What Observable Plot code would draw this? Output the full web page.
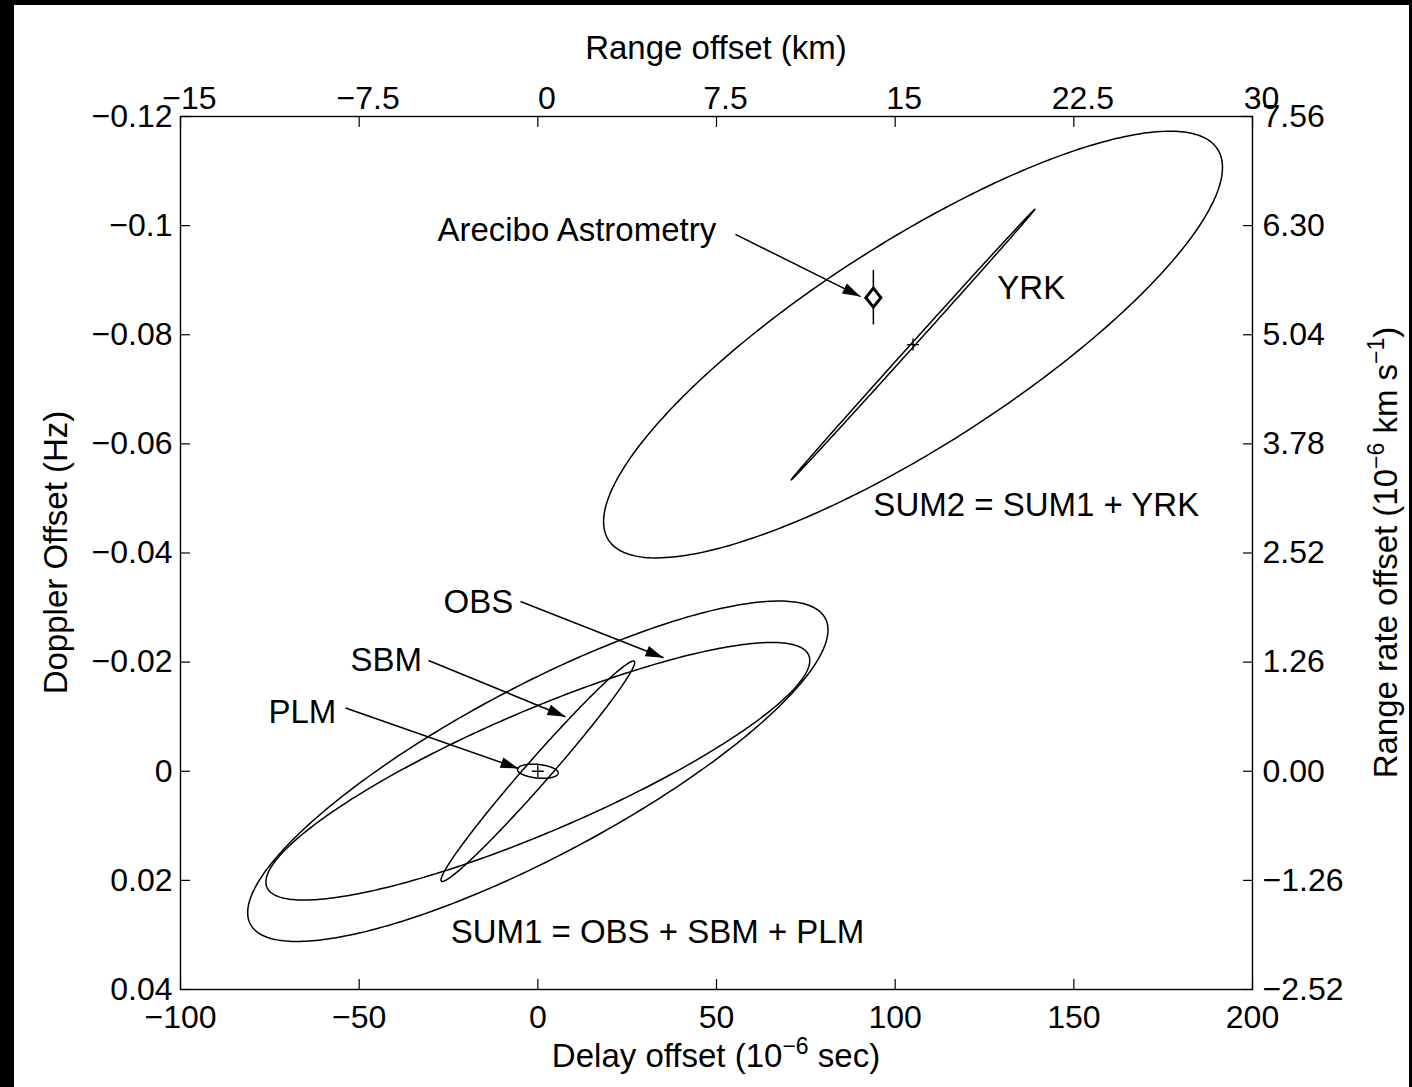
<!DOCTYPE html>
<html>
<head>
<meta charset="utf-8">
<script src="https://cdn.jsdelivr.net/npm/d3@7"></script>
<script src="https://cdn.jsdelivr.net/npm/@observablehq/plot@0.6"></script>
<style>
html, body { margin: 0; padding: 0; background: #000; }
body { width: 1412px; height: 1087px; position: relative; overflow: hidden; }
#wrap { position: absolute; left: 14px; top: 5px; width: 1395px; height: 1082px; background: #fff; }
#wrap svg { position: absolute; left: 0; top: 0; }
</style>
</head>
<body>
<div id="wrap"></div>
<script>
// ---------- axis ticks ----------
const delayTicks = [-100, -50, 0, 50, 100, 150, 200];
const delayLabels = ["−100", "−50", "0", "50", "100", "150", "200"];
const rangeKmTicks = [-15, -7.5, 0, 7.5, 15, 22.5, 30];
const rangeKmLabels = ["−15", "−7.5", "0", "7.5", "15", "22.5", "30"];
const kmPerMicrosec = 0.15;
const dopplerTicks = [-0.12, -0.1, -0.08, -0.06, -0.04, -0.02, 0, 0.02, 0.04];
const dopplerLabels = ["−0.12", "−0.1", "−0.08", "−0.06", "−0.04", "−0.02", "0", "0.02", "0.04"];
const rangeRateLabels = ["7.56", "6.30", "5.04", "3.78", "2.52", "1.26", "0.00", "−1.26", "−2.52"];

// ---------- error ellipses (center, half-extent in x and y, correlation) ----------
const ellipseNames = ["SUM2", "YRK", "SUM1", "OBS", "SBM", "PLM"];
const ellipseCx = [105.0, 105.0, 0, 0, 0, 0];
const ellipseCy = [-0.0782, -0.0782, 0, 0, 0, 0];
const ellipseSx = [86.6, 34.1, 81.2, 76.1, 27.1, 5.7];
const ellipseSy = [0.0391, 0.0248, 0.0312, 0.0236, 0.0202, 0.0013];
const ellipseRho = [-0.83, -0.9998, -0.83, -0.86, -0.986, 0.25];

// ---------- centre markers ----------
const centerX = [105.0, 0];
const centerY = [-0.0782, 0];

// ---------- Arecibo astrometry point ----------
const areciboX = [93.9];
const areciboY = [-0.0868];
const areciboErr = [0.005];

// ---------- annotation labels ----------
const noteText = ["Arecibo Astrometry", "YRK", "SUM2 = SUM1 + YRK", "OBS", "SBM", "PLM", "SUM1 = OBS + SBM + PLM"];
const noteX = [-28.1, 128.6, 93.9, -26.4, -52.4, -75.4, -24.4];
const noteY = [-0.0991, -0.0885, -0.0487, -0.0309, -0.0203, -0.0108, 0.0296];

// ---------- annotation arrows (start -> tip) ----------
const arrowX1 = [55.3, -4.85, -30.6, -53.8];
const arrowY1 = [-0.0984, -0.0311, -0.0203, -0.0116];
const arrowX2 = [90.3, 35.2, 7.74, -5.4];
const arrowY2 = [-0.0870, -0.0208, -0.0100, -0.0005];

// ---------- layout ----------
const W = 1395, H = 1082, ML = 166, MR = 157, MT = 111, MB = 98;
const FONT = "'Liberation Sans', Arial, Helvetica, sans-serif";
const kx = (W - ML - MR) / 300;      // px per microsecond
const ky = (H - MT - MB) / 0.16;     // px per Hz (downwards)

// ellipse outlines from their parameters
const NPTS = 360;
const ellipsePts = [];
ellipseNames.forEach((name, i) => {
  const s = Math.sqrt(1 - ellipseRho[i] ** 2);
  for (let k = 0; k <= NPTS; k++) {
    const t = 2 * Math.PI * k / NPTS;
    ellipsePts.push({
      name,
      x: ellipseCx[i] + ellipseSx[i] * Math.cos(t),
      y: ellipseCy[i] + ellipseSy[i] * (ellipseRho[i] * Math.cos(t) + s * Math.sin(t))
    });
  }
});

const arrows = arrowX1.map((x1, i) => ({
  x1, y1: arrowY1[i], x2: arrowX2[i], y2: arrowY2[i],
  angle: Math.atan2((arrowY2[i] - arrowY1[i]) * ky, (arrowX2[i] - x1) * kx) * 180 / Math.PI
}));
const notes = noteText.map((t, i) => ({t, x: noteX[i], y: noteY[i]}));
const centers = centerX.map((x, i) => ({x, y: centerY[i]}));
const arecibo = areciboX.map((x, i) => ({x, y: areciboY[i], lo: areciboY[i] - areciboErr[i], hi: areciboY[i] + areciboErr[i]}));

const headSymbol = {draw(c) { c.moveTo(0, 0); c.lineTo(-18, -5.5); c.lineTo(-18, 5.5); c.closePath(); }};
const diamondSymbol = {draw(c) { c.moveTo(0, -9.5); c.lineTo(7.5, 0); c.lineTo(0, 9.5); c.lineTo(-7.5, 0); c.closePath(); }};
const plusSymbol = {draw(c) { c.moveTo(-6, 0); c.lineTo(6, 0); c.moveTo(0, -6); c.lineTo(0, 6); }};

const topTickPos = rangeKmTicks.map(k => k / kmPerMicrosec);

const chart = Plot.plot({
  width: W, height: H,
  marginLeft: ML, marginRight: MR, marginTop: MT, marginBottom: MB,
  style: {fontFamily: FONT, fontSize: "32px", color: "black", background: "transparent", overflow: "visible"},
  x: {domain: [-100, 200]},
  y: {domain: [-0.12, 0.04], reverse: true},
  marks: [
    // inward tick marks on all four sides
    Plot.axisX(delayTicks, {anchor: "bottom", tickSize: -10, fill: "none", label: null, strokeWidth: 1.2}),
    Plot.axisX(topTickPos, {anchor: "top", tickSize: -10, fill: "none", label: null, strokeWidth: 1.2}),
    Plot.axisY(dopplerTicks, {anchor: "left", tickSize: -10, fill: "none", label: null, strokeWidth: 1.2}),
    Plot.axisY(dopplerTicks, {anchor: "right", tickSize: -10, fill: "none", label: null, strokeWidth: 1.2}),
    // tick labels
    Plot.axisX(delayTicks, {anchor: "bottom", tickSize: 0, tickPadding: 16, fontSize: 32, label: null,
      tickFormat: d => delayLabels[delayTicks.indexOf(d)]}),
    Plot.axisX(topTickPos, {anchor: "top", tickSize: 0, tickPadding: 8, fontSize: 32, label: null, dx: 9,
      tickFormat: d => rangeKmLabels[topTickPos.indexOf(d)]}),
    Plot.axisY(dopplerTicks, {anchor: "left", tickSize: 0, tickPadding: 8, fontSize: 32, label: null,
      tickFormat: d => dopplerLabels[dopplerTicks.indexOf(d)]}),
    Plot.axisY(dopplerTicks, {anchor: "right", tickSize: 0, tickPadding: 10, fontSize: 32, label: null,
      tickFormat: d => rangeRateLabels[dopplerTicks.indexOf(d)]}),
    Plot.frame({stroke: "black", strokeWidth: 1.4}),
    // ellipses
    Plot.line(ellipsePts, {x: "x", y: "y", z: "name", stroke: "black", strokeWidth: 1.5, curve: "linear"}),
    // centre crosses
    Plot.dot(centers, {x: "x", y: "y", symbol: plusSymbol, stroke: "black", fill: "none", strokeWidth: 1.3}),
    // Arecibo point with error bar
    Plot.ruleX(arecibo, {x: "x", y1: "lo", y2: "hi", stroke: "black", strokeWidth: 1.5}),
    Plot.dot(arecibo, {x: "x", y: "y", symbol: diamondSymbol, stroke: "black", fill: "white", strokeWidth: 3}),
    // arrows
    Plot.link(arrows, {x1: "x1", y1: "y1", x2: "x2", y2: "y2", stroke: "black", strokeWidth: 1.5}),
    Plot.dot(arrows, {x: "x2", y: "y2", rotate: "angle", symbol: headSymbol, fill: "black", stroke: "none"}),
    // annotation text
    Plot.text(notes, {x: "x", y: "y", text: "t", textAnchor: "start", lineAnchor: "middle", fontSize: 33, fill: "black"})
  ]
});

document.getElementById("wrap").appendChild(chart);

// axis titles with superscripts
const svg = d3.select(chart);
function addTitle(x, y, rotate, parts) {
  const t = svg.append("text")
    .attr("transform", `translate(${x},${y}) rotate(${rotate})`)
    .attr("text-anchor", "middle")
    .attr("font-family", FONT)
    .attr("font-size", 33)
    .attr("fill", "black");
  let shift = 0;
  parts.forEach(([s, sup]) => {
    const target = sup ? -13 : 0;
    t.append("tspan")
      .attr("dy", target - shift)
      .attr("font-size", sup ? 23 : 33)
      .text(s);
    shift = target;
  });
}
addTitle(ML + (W - ML - MR) / 2, 54, 0, [["Range offset (km)", false]]);
addTitle(ML + (W - ML - MR) / 2, 1062, 0, [["Delay offset (10", false], ["−6", true], [" sec)", false]]);
addTitle(53, MT + (H - MT - MB) / 2, -90, [["Doppler Offset (Hz)", false]]);
addTitle(1383, MT + (H - MT - MB) / 2, -90, [["Range rate offset (10", false], ["−6", true], [" km s", false], ["−1", true], [")", false]]);
</script>
</body>
</html>
